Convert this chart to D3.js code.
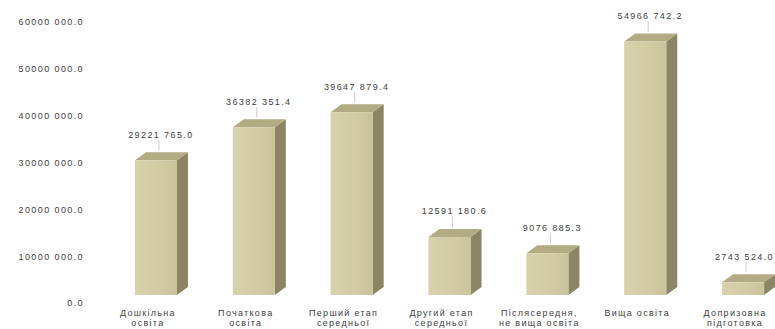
<!DOCTYPE html>
<html>
<head>
<meta charset="utf-8">
<script src="https://cdn.jsdelivr.net/npm/d3@7"></script>
<style>
  html, body { margin: 0; padding: 0; background: #ffffff; }
  svg { display: block; font-family: "Liberation Sans", Arial, sans-serif; }
</style>
</head>
<body>
<svg id="chart" width="775" height="329"></svg>
<script>
// ---- data ----
const categories = [
  ["Дошкільна", "освіта"],
  ["Початкова", "освіта"],
  ["Перший етап", "середньої"],
  ["Другий етап", "середньої"],
  ["Післясередня,", "не вища освіта"],
  ["Вища освіта"],
  ["Допризовна", "підготовка"]
];
const values = [29221765.0, 36382351.4, 39647879.4, 12591180.6, 9076885.3, 54966742.2, 2743524.0];
const yTicks = [0, 10000000, 20000000, 30000000, 40000000, 50000000, 60000000];

// ---- helpers ----
function fmt(v) {
  if (v === 0) return "0.0";
  const whole = Math.floor(v);
  const dec = Math.round((v - whole) * 10);
  const hi = Math.floor(whole / 1000);
  const lo = String(whole % 1000).padStart(3, "0");
  return hi + " " + lo + "." + dec;
}

const svg = d3.select("#chart");
const W = 775, H = 329;

const x = d3.scaleBand()
  .domain(d3.range(categories.length))
  .range([107, 792])
  .paddingInner(0.57)
  .paddingOuter(0.285);

// front-face value scale and axis-label scale
const yBar = d3.scaleLinear().domain([0, 60000000]).range([295, 18.4]);
const yAxisScale = d3.scaleLinear().domain([0, 60000000]).range([303, 22]);

const dx = 11, dy = 8;

const defs = svg.append("defs");
const g1 = defs.append("linearGradient").attr("id", "front").attr("x1", "0").attr("x2", "1");
g1.append("stop").attr("offset", "0").attr("stop-color", "#d8d1ad");
g1.append("stop").attr("offset", "0.6").attr("stop-color", "#d2cba5");
g1.append("stop").attr("offset", "1").attr("stop-color", "#c9c29b");

// axis
const axis = d3.axisLeft(yAxisScale)
  .tickValues(yTicks)
  .tickSize(0)
  .tickPadding(0)
  .tickFormat(fmt);
const ag = svg.append("g").attr("transform", "translate(84,0)").call(axis);
ag.select(".domain").remove();
ag.selectAll("text")
  .attr("font-size", 9)
  .attr("letter-spacing", "1.4px")
  .attr("fill", "#404040")
  .attr("font-family", "Liberation Sans, Arial, sans-serif");

// bars
const bars = svg.append("g");
values.forEach((v, i) => {
  const x0 = x(i), w = x.bandwidth();
  const yF = yBar(v), yB = yBar(0);
  bars.append("polygon")
    .attr("points", [[x0 + w, yF], [x0 + w + dx, yF - dy], [x0 + w + dx, yB - dy], [x0 + w, yB]].map(p => p.join(",")).join(" "))
    .attr("fill", "#8b8563");
  bars.append("polygon")
    .attr("points", [[x0, yF], [x0 + dx, yF - dy], [x0 + w + dx, yF - dy], [x0 + w, yF]].map(p => p.join(",")).join(" "))
    .attr("fill", "#b3ab83");
  bars.append("rect")
    .attr("x", x0).attr("y", yF)
    .attr("width", w).attr("height", yB - yF)
    .attr("fill", "url(#front)");
});

// value labels with leader lines
const lab = svg.append("g");
values.forEach((v, i) => {
  const cx = x(i) + x.bandwidth() / 2 + 5;
  const topBack = yBar(v) - dy;
  const ly = topBack - 17;
  lab.append("line")
    .attr("x1", cx - 2).attr("x2", cx - 2)
    .attr("y1", ly + 5).attr("y2", topBack - 2)
    .attr("stroke", "#bbbbbb").attr("stroke-width", 0.8);
  const t = lab.append("text")
    .attr("x", cx).attr("y", ly)
    .attr("text-anchor", "middle")
    .attr("dominant-baseline", "middle")
    .attr("font-size", 9)
    .attr("letter-spacing", "1.4px")
    .attr("fill", "#404040")
    .text(fmt(v));
  const bb = t.node().getBBox();
  if (bb.x + bb.width > W - 1) {
    t.attr("x", cx - (bb.x + bb.width - (W - 1)));
  }
});

// category labels
const cg = svg.append("g");
categories.forEach((lines, i) => {
  const cx = x(i) + x.bandwidth() / 2 - 8;
  const t = cg.append("text")
    .attr("text-anchor", "middle")
    .attr("font-size", 9)
    .attr("letter-spacing", "1.3px")
    .attr("fill", "#404040");
  lines.forEach((ln, j) => {
    t.append("tspan")
      .attr("x", cx)
      .attr("y", 316 + j * 9.5)
      .text(ln);
  });
  const bb = t.node().getBBox();
  if (bb.x + bb.width > W - 1) {
    t.selectAll("tspan").attr("x", cx - (bb.x + bb.width - (W - 1)));
  }
});
</script>
</body>
</html>
